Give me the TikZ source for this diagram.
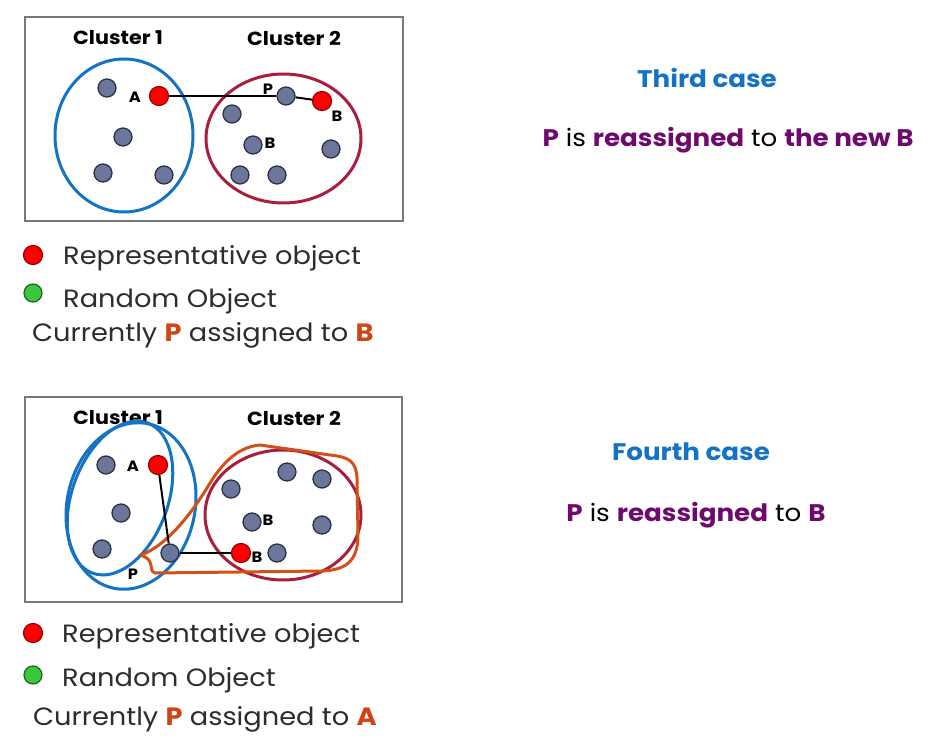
\documentclass[tikz,border=0pt]{standalone}
\usepackage{fontspec}
\setmainfont{Poppins}[FakeStretch=1.09]
\definecolor{dotgray}{RGB}{108,117,154}
\definecolor{dotedge}{RGB}{45,50,70}
\definecolor{redfill}{RGB}{255,0,0}
\definecolor{rededge}{RGB}{150,0,0}
\definecolor{greenfill}{RGB}{60,200,60}
\definecolor{greenedge}{RGB}{30,100,30}
\definecolor{cblue}{RGB}{20,115,195}
\definecolor{cmaroon}{RGB}{168,30,60}
\definecolor{corange}{RGB}{210,80,25}
\definecolor{torange}{RGB}{205,70,20}
\definecolor{tpurple}{RGB}{110,10,110}
\definecolor{tgray}{RGB}{45,45,45}
\definecolor{boxgray}{RGB}{120,120,120}
\begin{document}
\begin{tikzpicture}[x=1pt,y=-1pt,
  dot/.style={circle,fill=dotgray,draw=dotedge,line width=1.3pt,minimum size=18pt,inner sep=0pt},
  rdot/.style={circle,fill=redfill,draw=rededge,line width=1.2pt,minimum size=19pt,inner sep=0pt},
  gdot/.style={circle,fill=greenfill,draw=greenedge,line width=1.2pt,minimum size=18pt,inner sep=0pt},
  lbl/.style={font=\bfseries\fontsize{15}{15}\selectfont,inner sep=0pt},
  cl/.style={font=\bfseries\fontsize{19}{19}\selectfont,inner sep=0pt},
  leg/.style={font=\fontsize{25}{25}\selectfont,text=tgray,anchor=base west,inner sep=0pt},
  head/.style={font=\bfseries\fontsize{24}{24}\selectfont,text=cblue,inner sep=0pt},
  expl/.style={font=\fontsize{24}{24}\selectfont,inner sep=0pt},
  conn/.style={line width=2pt,black},
  ell/.style={line width=3pt},
  frame/.style={draw=boxgray,line width=1.4pt}]
\useasboundingbox (0,0) rectangle (940,754);
\fill[white] (0,0) rectangle (940,754);

% ---------- Top panel ----------
\draw[frame] (25,17) rectangle (403,221);
\node[cl] (c1a) at (118,38) {Cluster 1};
\node[cl] (c2a) at (294,38) {Cluster 2};
\draw[cblue,ell] (124,135.5) ellipse [x radius=69,y radius=76.5];
\draw[cmaroon,ell] (283.5,138.5) ellipse [x radius=77.5,y radius=64.5];

\node[dot] (a1) at (107,88) {};
\node[rdot] (aA) at (159,96) {};
\node[dot] (a2) at (123,137) {};
\node[dot] (a3) at (103,173) {};
\node[dot] (a4) at (164,175) {};
\node[dot] (aP) at (286,96) {};
\node[rdot] (aB) at (322,101) {};
\node[dot] (a5) at (232,114) {};
\node[dot] (a6) at (253,145) {};
\node[dot] (a7) at (331,149) {};
\node[dot] (a8) at (240,175) {};
\node[dot] (a9) at (277,175) {};
\node[lbl] (tA1) at (135,97) {A};
\node[lbl] (tP1) at (268,89) {P};
\node[lbl] (tB1) at (337,116) {B};
\node[lbl] (tB2) at (270,143) {B};
\draw[conn] (aA) -- (aP);
\draw[conn] (aP) -- (aB);

% legend top
\node[rdot] (l1r) at (33,255) {};
\node[leg] (l1t) at (63,265) {Representative object};
\node[gdot] (l1g) at (33,293) {};
\node[leg] (l1u) at (63,307) {Random Object};
\node[leg] (l1c) at (32,341) {Currently \textbf{\textcolor{torange}{P}} assigned to \textbf{\textcolor{torange}{B}}};

% right top
\node[head] (h3) at (707,78) {Third case};
\node[expl] (e3) at (728,140) {\textbf{\textcolor{tpurple}{P}} is \textbf{\textcolor{tpurple}{reassigned}} to \textbf{\textcolor{tpurple}{the new B}}};

% ---------- Bottom panel ----------
\draw[frame] (25,397) rectangle (402,602);
\node[cl] (c1b) at (118,418) {Cluster 1};
\node[cl] (c2b) at (294,418) {Cluster 2};
\draw[cblue,ell,rotate around={-20:(120,498)}] (120,498) ellipse [x radius=48,y radius=80];
\draw[cblue,ell,rotate around={-12:(131,506)}] (131,506) ellipse [x radius=64,y radius=84];
\draw[cmaroon,ell] (283,515) ellipse [x radius=78,y radius=65];
\draw[corange,ell] (141,555) .. controls (168,545) and (192,512) .. (207,488)
  .. controls (220,466) and (236,447) .. (260,445) -- (330,455)
  .. controls (350,457) and (356,462) .. (357,478) -- (358,535)
  .. controls (358,562) and (345,570) .. (322,571) -- (155,573)
  .. controls (150,572) and (152,565) .. (150,562)
  .. controls (148,558) and (145,557) .. (141,555) -- cycle;

\node[dot] (b1) at (106,465) {};
\node[rdot] (bA) at (158,465) {};
\node[dot] (b2) at (121,513) {};
\node[dot] (b3) at (102,549) {};
\node[dot] (bP) at (170,553) {};
\node[rdot] (bB) at (241,553) {};
\node[dot] (b4) at (277,553) {};
\node[dot] (b5) at (231,489) {};
\node[dot] (b6) at (287,472) {};
\node[dot] (b7) at (322,479) {};
\node[dot] (b8) at (252,522) {};
\node[dot] (b9) at (322,525) {};
\node[lbl] (tA2) at (133,466) {A};
\node[lbl] (tP2) at (133,574) {P};
\node[lbl] (tB3) at (268,520) {B};
\node[lbl] (tB4) at (257,557) {B};
\draw[conn] (bA) -- (bP);
\draw[conn] (bP) -- (bB);

% legend bottom
\node[rdot] (l2r) at (33,633) {};
\node[leg] (l2t) at (62,642) {Representative object};
\node[gdot] (l2g) at (33,675) {};
\node[leg] (l2u) at (62,686) {Random Object};
\node[leg] (l2c) at (33,725) {Currently \textbf{\textcolor{torange}{P}} assigned to \textbf{\textcolor{torange}{A}}};

% right bottom
\node[head] (h4) at (691,452) {Fourth case};
\node[expl] (e4) at (696,515) {\textbf{\textcolor{tpurple}{P}} is \textbf{\textcolor{tpurple}{reassigned}} to \textbf{\textcolor{tpurple}{B}}};
\end{tikzpicture}
\end{document}
